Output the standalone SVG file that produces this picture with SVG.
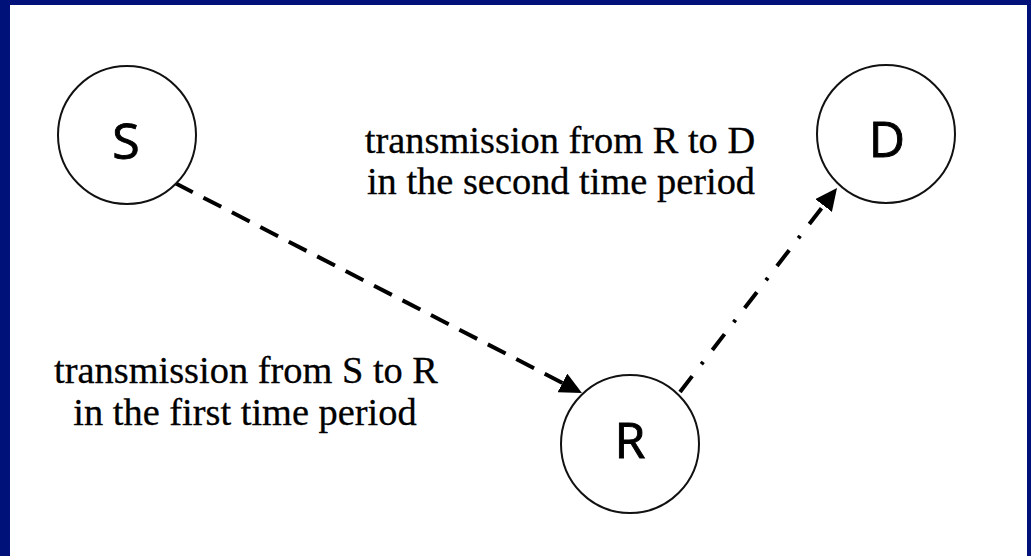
<svg xmlns="http://www.w3.org/2000/svg" width="1031" height="556" viewBox="0 0 1031 556">
<style>
.node circle{fill:#fff;stroke:#111;stroke-width:2}
.node text{font-family:"Open Sans","Liberation Sans",sans-serif;font-size:50px;fill:#000;stroke:#000;stroke-width:0.9;text-anchor:middle}
.lbl{font-family:"Liberation Serif","Times New Roman",serif;font-size:38.4px;fill:#000;stroke:#000;stroke-width:0.3;text-anchor:middle}
.edge{fill:none;stroke:#000;stroke-width:4}
</style>
<defs>
<marker id="arr" viewBox="0 0 22 21" refX="2" refY="10.5" markerWidth="22" markerHeight="21" markerUnits="userSpaceOnUse" orient="auto">
<path d="M0,0 L22,10.5 L0,21 z" fill="#000"/>
</marker>
</defs>
<rect x="0" y="0" width="1031" height="556" fill="#00127A"/>
<rect x="10" y="5" width="1017" height="551" fill="#fff"/>
<g id="connectors">
<path class="edge" d="M175,183 L564.2,383.8" stroke-dasharray="20 12" marker-end="url(#arr)"/>
<path class="edge" d="M680,392 L824.8,203.9" stroke-dasharray="20 15 3 15" marker-end="url(#arr)"/>
</g>
<g id="node-S" class="node"><circle cx="127" cy="135" r="69"/><text x="126" y="159">S</text></g>
<g id="node-R" class="node"><circle cx="630" cy="444" r="69"/><text x="630" y="458">R</text></g>
<g id="node-D" class="node"><circle cx="886" cy="134" r="69"/><text x="887" y="157">D</text></g>
<g id="label-RD"><text class="lbl" x="560" y="153">transmission from R to D</text><text class="lbl" x="561" y="194">in the second time period</text></g>
<g id="label-SR"><text class="lbl" x="246" y="383">transmission from S to R</text><text class="lbl" x="245" y="425">in the first time period</text></g>
</svg>
